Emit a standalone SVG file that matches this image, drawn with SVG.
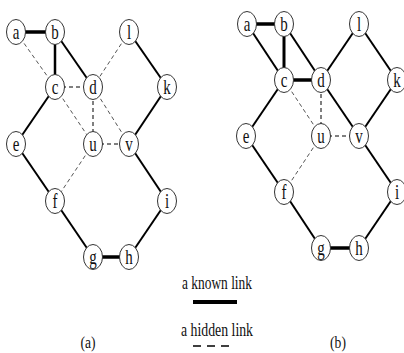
<svg xmlns="http://www.w3.org/2000/svg" width="404" height="353" viewBox="0 0 404 353">
<style>
.n ellipse{fill:#fff;stroke:#333;stroke-width:1}
.n text{font-family:"Liberation Serif","DejaVu Serif",serif;font-size:20px;fill:#111;text-anchor:middle}
.k{stroke:#000;stroke-width:2;fill:none}
.kt{stroke:#000;stroke-width:3.5;fill:none}
.h{stroke:#555;stroke-width:1;stroke-dasharray:4 3;fill:none}
.hd{stroke:#000;stroke-width:1;stroke-dasharray:4 3;fill:none}
.lab{font-family:"Liberation Serif","DejaVu Serif",serif;font-size:19px;fill:#111}
</style>
<rect width="404" height="353" fill="#fff"/>
<g id="connectors">
<line class="kt" x1="16" y1="32" x2="55" y2="32"/>
<line class="k" style="stroke-width:2.5" x1="55" y1="32" x2="55" y2="87"/>
<line class="k" x1="55" y1="32" x2="93" y2="87"/>
<line class="k" x1="129" y1="32" x2="167" y2="87"/>
<line class="k" x1="167" y1="87" x2="129" y2="144"/>
<line class="k" x1="129" y1="144" x2="167" y2="201"/>
<line class="k" x1="167" y1="201" x2="129" y2="257"/>
<line class="kt" x1="93" y1="257" x2="129" y2="257"/>
<line class="k" x1="93" y1="257" x2="55" y2="201"/>
<line class="k" x1="55" y1="201" x2="16" y2="144"/>
<line class="k" x1="16" y1="144" x2="55" y2="87"/>
<line class="h" x1="16" y1="32" x2="55" y2="87"/>
<line class="h" x1="129" y1="32" x2="93" y2="87"/>
<line class="hd" x1="55" y1="87" x2="93" y2="87"/>
<line class="h" x1="55" y1="87" x2="93" y2="144"/>
<line class="hd" x1="93" y1="87" x2="93" y2="144"/>
<line class="h" x1="93" y1="87" x2="129" y2="144"/>
<line class="hd" x1="93" y1="144" x2="129" y2="144"/>
<line class="h" x1="93" y1="144" x2="55" y2="201"/>
<line class="kt" x1="247" y1="24" x2="284" y2="24"/>
<line class="k" style="stroke-width:3" x1="284" y1="24" x2="284" y2="80"/>
<line class="k" x1="247" y1="24" x2="284" y2="80"/>
<line class="k" x1="284" y1="24" x2="321" y2="80"/>
<line class="kt" x1="284" y1="80" x2="321" y2="80"/>
<line class="k" x1="359" y1="24" x2="321" y2="80"/>
<line class="k" x1="359" y1="24" x2="397" y2="80"/>
<line class="k" x1="397" y1="80" x2="359" y2="136"/>
<line class="k" x1="321" y1="80" x2="359" y2="136"/>
<line class="k" x1="359" y1="136" x2="397" y2="192"/>
<line class="k" x1="397" y1="192" x2="359" y2="248"/>
<line class="kt" x1="321" y1="248" x2="359" y2="248"/>
<line class="k" x1="321" y1="248" x2="284" y2="192"/>
<line class="k" x1="284" y1="192" x2="246" y2="136"/>
<line class="k" x1="246" y1="136" x2="284" y2="80"/>
<line class="h" x1="284" y1="80" x2="321" y2="136"/>
<line class="hd" x1="321" y1="80" x2="321" y2="136"/>
<line class="hd" x1="321" y1="136" x2="359" y2="136"/>
<line class="h" x1="321" y1="136" x2="284" y2="192"/>
<line class="k" style="stroke-width:4" x1="193" y1="302" x2="237" y2="302"/>
<line class="hd" style="stroke-width:1.5;stroke-dasharray:8 6" x1="193" y1="346" x2="233" y2="346"/>
</g>
<g id="a_a" class="n"><ellipse cx="16" cy="32" rx="9.5" ry="12.5"/><text transform="translate(16,38.5) scale(0.75,1)">a</text></g>
<g id="a_b" class="n"><ellipse cx="55" cy="32" rx="9.5" ry="12.5"/><text transform="translate(55,38.5) scale(0.75,1)">b</text></g>
<g id="a_l" class="n"><ellipse cx="129" cy="32" rx="9.5" ry="12.5"/><text transform="translate(129,38.5) scale(0.75,1)">l</text></g>
<g id="a_c" class="n"><ellipse cx="55" cy="87" rx="9.5" ry="12.5"/><text transform="translate(55,93.5) scale(0.75,1)">c</text></g>
<g id="a_d" class="n"><ellipse cx="93" cy="87" rx="9.5" ry="12.5"/><text transform="translate(93,93.5) scale(0.75,1)">d</text></g>
<g id="a_k" class="n"><ellipse cx="167" cy="87" rx="9.5" ry="12.5"/><text transform="translate(167,93.5) scale(0.75,1)">k</text></g>
<g id="a_e" class="n"><ellipse cx="16" cy="144" rx="9.5" ry="12.5"/><text transform="translate(16,150.5) scale(0.75,1)">e</text></g>
<g id="a_u" class="n"><ellipse cx="93" cy="144" rx="9.5" ry="12.5"/><text transform="translate(93,150.5) scale(0.75,1)">u</text></g>
<g id="a_v" class="n"><ellipse cx="129" cy="144" rx="9.5" ry="12.5"/><text transform="translate(129,150.5) scale(0.75,1)">v</text></g>
<g id="a_f" class="n"><ellipse cx="55" cy="201" rx="9.5" ry="12.5"/><text transform="translate(55,207.5) scale(0.75,1)">f</text></g>
<g id="a_i" class="n"><ellipse cx="167" cy="201" rx="9.5" ry="12.5"/><text transform="translate(167,207.5) scale(0.75,1)">i</text></g>
<g id="a_g" class="n"><ellipse cx="93" cy="257" rx="9.5" ry="12.5"/><text transform="translate(93,263.5) scale(0.75,1)">g</text></g>
<g id="a_h" class="n"><ellipse cx="129" cy="257" rx="9.5" ry="12.5"/><text transform="translate(129,263.5) scale(0.75,1)">h</text></g>
<g id="b_a" class="n"><ellipse cx="247" cy="24" rx="9.5" ry="12.5"/><text transform="translate(247,30.5) scale(0.75,1)">a</text></g>
<g id="b_b" class="n"><ellipse cx="284" cy="24" rx="9.5" ry="12.5"/><text transform="translate(284,30.5) scale(0.75,1)">b</text></g>
<g id="b_l" class="n"><ellipse cx="359" cy="24" rx="9.5" ry="12.5"/><text transform="translate(359,30.5) scale(0.75,1)">l</text></g>
<g id="b_c" class="n"><ellipse cx="284" cy="80" rx="9.5" ry="12.5"/><text transform="translate(284,86.5) scale(0.75,1)">c</text></g>
<g id="b_d" class="n"><ellipse cx="321" cy="80" rx="9.5" ry="12.5"/><text transform="translate(321,86.5) scale(0.75,1)">d</text></g>
<g id="b_k" class="n"><ellipse cx="397" cy="80" rx="9.5" ry="12.5"/><text transform="translate(397,86.5) scale(0.75,1)">k</text></g>
<g id="b_e" class="n"><ellipse cx="246" cy="136" rx="9.5" ry="12.5"/><text transform="translate(246,142.5) scale(0.75,1)">e</text></g>
<g id="b_u" class="n"><ellipse cx="321" cy="136" rx="9.5" ry="12.5"/><text transform="translate(321,142.5) scale(0.75,1)">u</text></g>
<g id="b_v" class="n"><ellipse cx="359" cy="136" rx="9.5" ry="12.5"/><text transform="translate(359,142.5) scale(0.75,1)">v</text></g>
<g id="b_f" class="n"><ellipse cx="284" cy="192" rx="9.5" ry="12.5"/><text transform="translate(284,198.5) scale(0.75,1)">f</text></g>
<g id="b_i" class="n"><ellipse cx="397" cy="192" rx="9.5" ry="12.5"/><text transform="translate(397,198.5) scale(0.75,1)">i</text></g>
<g id="b_g" class="n"><ellipse cx="321" cy="248" rx="9.5" ry="12.5"/><text transform="translate(321,254.5) scale(0.75,1)">g</text></g>
<g id="b_h" class="n"><ellipse cx="359" cy="248" rx="9.5" ry="12.5"/><text transform="translate(359,254.5) scale(0.75,1)">h</text></g>
<g id="legend">
<text class="lab" x="182" y="289" textLength="70" lengthAdjust="spacingAndGlyphs">a known link</text>
<text class="lab" x="181" y="336" textLength="72" lengthAdjust="spacingAndGlyphs">a hidden link</text>
</g>
<text class="lab" transform="translate(88,348) scale(0.8,1)" text-anchor="middle" style="font-size:17px">(a)</text>
<text class="lab" transform="translate(338,348) scale(0.8,1)" text-anchor="middle" style="font-size:17px">(b)</text>
</svg>
